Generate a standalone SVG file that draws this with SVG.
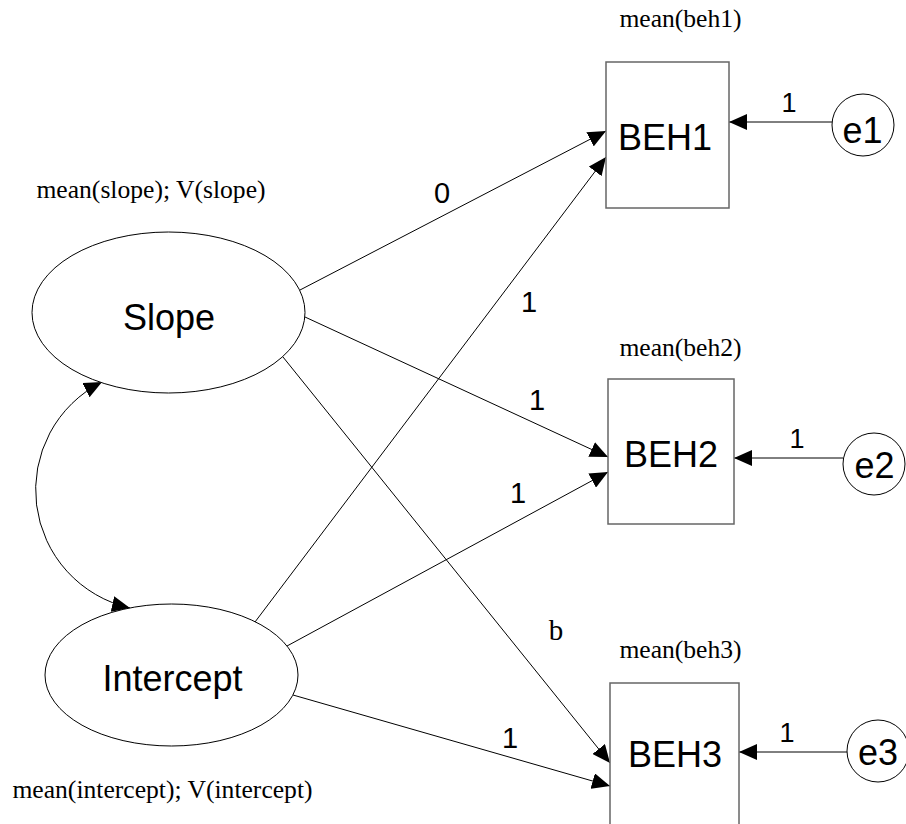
<svg xmlns="http://www.w3.org/2000/svg" width="906" height="824" viewBox="0 0 906 824">
  <defs>
    <marker id="arrow" viewBox="0 0 18 16" refX="18" refY="8" markerWidth="18" markerHeight="16" markerUnits="userSpaceOnUse" orient="auto-start-reverse">
      <path d="M0,0 L18,8 L0,16 z" fill="#000"/>
    </marker>
    <style>
      .latent { fill: #fff; stroke: #000; stroke-width: 1; }
      .observed { fill: #fff; stroke: #666; stroke-width: 1.5; }
      .name { font-family: "Liberation Sans", Arial, sans-serif; font-size: 36px; fill: #000; text-anchor: middle; }
      .note { font-family: "Liberation Serif", "Times New Roman", serif; font-size: 25.6px; fill: #000; text-anchor: middle; }
      .coef { font-family: "Liberation Sans", Arial, sans-serif; font-size: 29px; fill: #000; text-anchor: middle; }
      .ecoef { font-family: "Liberation Sans", Arial, sans-serif; font-size: 27px; fill: #000; text-anchor: middle; }
      .path { fill: none; stroke: #000; stroke-width: 1; marker-end: url(#arrow); }
    </style>
  </defs>

  <rect width="906" height="824" fill="#fff"/>

  <!-- paths, covariance and error terms -->
  <g id="connectors">
    <path class="path" d="M102,382 A121,121 0 0 0 130,608" marker-start="url(#arrow)"/>
    <line class="path" x1="300" y1="290" x2="606" y2="131"/>
    <line class="path" x1="255" y1="622" x2="606" y2="157"/>
    <line class="path" x1="305" y1="317" x2="608" y2="457"/>
    <line class="path" x1="287" y1="646" x2="608" y2="472"/>
    <line class="path" x1="283" y1="357" x2="610" y2="763"/>
    <line class="path" x1="293" y1="695" x2="610" y2="786"/>
    <line class="path" x1="832" y1="122" x2="729" y2="122"/>
    <line class="path" x1="843" y1="458" x2="734" y2="458"/>
    <line class="path" x1="847" y1="752" x2="739" y2="752"/>

    <text class="coef" x="442" y="203">0</text>
    <text class="coef" x="529" y="312">1</text>
    <text class="coef" x="537" y="410">1</text>
    <text class="coef" x="518" y="503">1</text>
    <text class="note" x="556" y="640" style="font-size:29px">b</text>
    <text class="coef" x="510" y="748">1</text>
    <text class="ecoef" x="789" y="112">1</text>
    <text class="ecoef" x="797" y="448">1</text>
    <text class="ecoef" x="787" y="742">1</text>
  </g>

  <g id="slope">
    <ellipse class="latent" cx="168.5" cy="312.5" rx="136.5" ry="80.5"/>
    <text class="name" x="169" y="330">Slope</text>
    <text class="note" x="151" y="198">mean(slope); V(slope)</text>
  </g>

  <g id="intercept">
    <ellipse class="latent" cx="171.5" cy="675" rx="126.5" ry="71"/>
    <text class="name" x="172.5" y="691">Intercept</text>
    <text class="note" x="162.5" y="798">mean(intercept); V(intercept)</text>
  </g>

  <g id="beh1">
    <rect class="observed" x="606" y="62" width="123" height="146"/>
    <text class="name" x="665" y="150">BEH1</text>
    <text class="note" x="680.5" y="27">mean(beh1)</text>
  </g>

  <g id="beh2">
    <rect class="observed" x="608" y="379" width="126" height="145"/>
    <text class="name" x="671" y="467">BEH2</text>
    <text class="note" x="680.5" y="356">mean(beh2)</text>
  </g>

  <g id="beh3">
    <rect class="observed" x="610" y="683" width="129" height="146"/>
    <text class="name" x="675" y="767">BEH3</text>
    <text class="note" x="680.5" y="658">mean(beh3)</text>
  </g>

  <g id="e1">
    <circle class="latent" cx="863" cy="125" r="31"/>
    <text class="name" x="862.5" y="143">e1</text>
  </g>

  <g id="e2">
    <circle class="latent" cx="874" cy="464" r="31"/>
    <text class="name" x="874.5" y="478">e2</text>
  </g>

  <g id="e3">
    <circle class="latent" cx="878" cy="751" r="31"/>
    <text class="name" x="878" y="765">e3</text>
  </g>
</svg>
